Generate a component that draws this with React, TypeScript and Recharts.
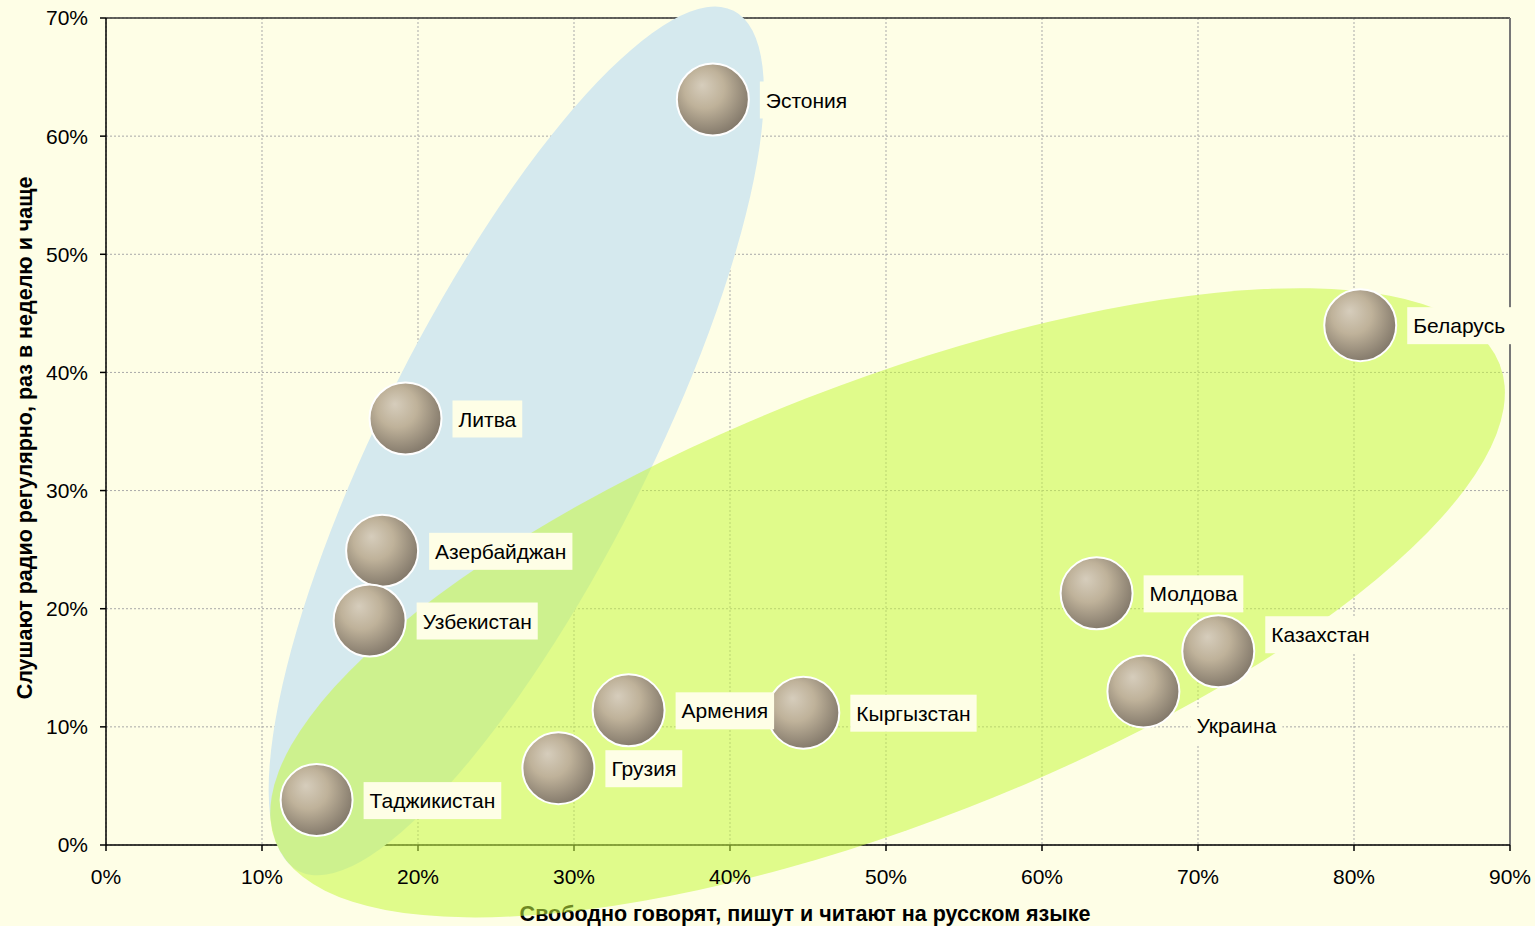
import {
  CartesianGrid,
  Label,
  ReferenceLine,
  Scatter,
  ScatterChart,
  XAxis,
  YAxis,
} from "recharts";

const countries = [
  "Эстония",
  "Литва",
  "Азербайджан",
  "Узбекистан",
  "Таджикистан",
  "Грузия",
  "Армения",
  "Кыргызстан",
  "Молдова",
  "Казахстан",
  "Украина",
  "Беларусь",
];
// % свободно говорят, пишут и читают на русском
const speakShare = [38.9, 19.2, 17.7, 16.9, 13.5, 29.0, 33.5, 44.7, 63.5, 71.3, 66.5, 80.4];
// % слушают радио регулярно
const radioShare = [63.1, 36.1, 24.9, 19.0, 3.8, 6.5, 11.4, 11.2, 21.3, 16.4, 13.0, 44.0];

const xTicks = [0, 10, 20, 30, 40, 50, 60, 70, 80, 90];
const yTicks = [0, 10, 20, 30, 40, 50, 60, 70];

// group highlight ellipses, centres in data units
const groupX = [26.3, 50.1];
const groupY = [34.2, 20.5];

const ellipseLook = [
  { rx: 482, ry: 133, angle: -63.2, fill: "#d5e9ee", opacity: 1 },
  { rx: 657, ry: 220, angle: -21.3, fill: "#c6f83f", opacity: 0.55 },
];

// labels that sit off the usual right-hand spot
const labelShift: Record<string, number> = { Казахстан: -17, Украина: 34 };

const BG = "#fefee6";
const FONT = '"Liberation Sans", Arial, sans-serif';

if (typeof document !== "undefined") {
  document.body.style.margin = "0";
  document.body.style.background = BG;
}

const points = countries.map((name, i) => ({ name, x: speakShare[i], y: radioShare[i] }));
const groups = groupX.map((x, i) => ({ x, y: groupY[i], ...ellipseLook[i] }));

let ctx: CanvasRenderingContext2D | null = null;
const textWidth = (s: string) => {
  if (!ctx) ctx = document.createElement("canvas").getContext("2d");
  if (!ctx) return s.length * 11.5;
  ctx.font = `21px ${FONT}`;
  return ctx.measureText(s).width;
};

const EllipseShape = (props: any) => {
  const { cx, cy, payload } = props;
  return (
    <ellipse
      cx={cx}
      cy={cy}
      rx={payload.rx}
      ry={payload.ry}
      fill={payload.fill}
      fillOpacity={payload.opacity}
      transform={`rotate(${payload.angle} ${cx} ${cy})`}
    />
  );
};

const Bubble = (props: any) => {
  const { cx, cy } = props;
  return <circle cx={cx} cy={cy} r={36} fill="url(#ball)" stroke="#fff" strokeWidth={2} />;
};

const BubbleLabel = (props: any) => {
  const { cx, cy, payload } = props;
  const dy = labelShift[payload.name] ?? 0;
  const w = textWidth(payload.name) + 12;
  return (
    <g>
      <rect x={cx + 47} y={cy + dy - 18} width={w} height={37} fill={BG} />
      <text x={cx + 53} y={cy + dy + 8} fontSize={21} fontFamily={FONT} fill="#000">
        {payload.name}
      </text>
    </g>
  );
};

const pct = (v: number) => `${v}%`;

export default function App() {
  return (
    <div style={{ width: 1535, height: 926, background: BG }}>
      <ScatterChart width={1535} height={926} margin={{ top: 18, right: 25, bottom: 0, left: 0 }}>
        <defs>
          <radialGradient id="ball" cx="42%" cy="40%" r="62%" fx="35%" fy="30%">
            <stop offset="0%" stopColor="#d6cdbc" />
            <stop offset="45%" stopColor="#bfb29a" />
            <stop offset="100%" stopColor="#82786a" />
          </radialGradient>
        </defs>
        <Scatter data={groups} shape={EllipseShape} isAnimationActive={false} />
        <CartesianGrid stroke="#a9a9a9" strokeDasharray="2 2" />
        <ReferenceLine y={70} stroke="#333" strokeWidth={1.5} />
        <ReferenceLine x={90} stroke="#777" strokeWidth={2} />
        <XAxis
          type="number"
          dataKey="x"
          domain={[0, 90]}
          ticks={xTicks}
          tickFormatter={pct}
          height={81}
          tickSize={6}
          tickMargin={18}
          stroke="#000"
          strokeWidth={1.5}
          tick={{ fontSize: 21, fill: "#000", fontFamily: FONT }}
          interval={0}
        >
          <Label
            content={(p: any) => {
              const vb = p.viewBox || { x: 106, width: 1404 };
              return (
                <text
                  x={vb.x + vb.width / 2 - 3}
                  y={921}
                  textAnchor="middle"
                  fontSize={21.5}
                  fontWeight="bold"
                  fontFamily={FONT}
                  fill="#000"
                >
                  Свободно говорят, пишут и читают на русском языке
                </text>
              );
            }}
          />
        </XAxis>
        <YAxis
          type="number"
          dataKey="y"
          domain={[0, 70]}
          ticks={yTicks}
          tickFormatter={pct}
          width={106}
          tickSize={6}
          tickMargin={12}
          stroke="#000"
          strokeWidth={1.5}
          tick={{ fontSize: 21, fill: "#000", fontFamily: FONT }}
          interval={0}
        >
          <Label
            content={() => (
              <text
                x={32}
                y={438}
                transform="rotate(-90 32 438)"
                textAnchor="middle"
                fontSize={21.5}
                fontWeight="bold"
                fontFamily={FONT}
                fill="#000"
              >
                Слушают радио регулярно, раз в неделю и чаще
              </text>
            )}
          />
        </YAxis>
        <Scatter data={points} shape={Bubble} isAnimationActive={false} />
        <Scatter data={points} shape={BubbleLabel} isAnimationActive={false} />
      </ScatterChart>
    </div>
  );
}
